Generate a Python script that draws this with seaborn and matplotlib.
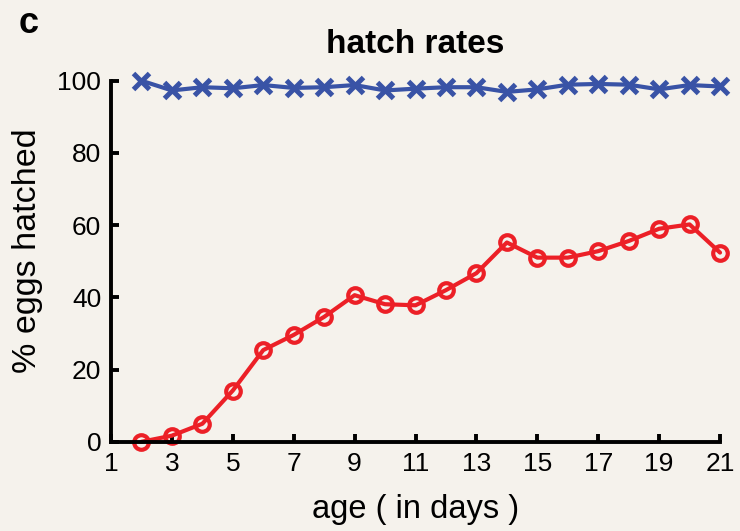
import matplotlib
matplotlib.use("Agg")
import matplotlib.pyplot as plt
import seaborn as sns
import pandas as pd

days = list(range(2, 22))
hatch_control = [100, 97.3, 98.2, 97.9, 98.8, 98.0, 98.2, 98.8, 97.3, 97.8,
                 98.2, 98.2, 96.9, 97.6, 98.9, 99.1, 98.9, 97.6, 98.8, 98.4]
hatch_treated = [0, 1.7, 5.0, 14.2, 25.4, 29.6, 34.6, 40.6, 38.1, 37.8,
                 42.0, 46.7, 55.2, 51.0, 51.0, 52.8, 55.6, 59.0, 60.2, 52.4]
xticks = list(range(1, 22, 2))
yticks = list(range(0, 101, 20))

sns.set_style("ticks")
plt.rcParams['font.family'] = ['Liberation Sans', 'DejaVu Sans']
plt.rcParams['text.color'] = 'black'
plt.rcParams['axes.labelcolor'] = 'black'

bg = "#f5f2ec"
fig = plt.figure(figsize=(7.4, 5.31), dpi=100, facecolor=bg)
ax = fig.add_axes([0.150, 0.168, 0.823, 0.680])
ax.set_facecolor(bg)

df = pd.DataFrame({"day": days, "control": hatch_control, "treated": hatch_treated})

blue = "#3953a6"
red = "#ec2027"
sns.lineplot(data=df, x="day", y="control", ax=ax, color=blue, lw=3,
             marker="x", markersize=11, markeredgewidth=3.6,
             markeredgecolor=blue, clip_on=False)
sns.lineplot(data=df, x="day", y="treated", ax=ax, color=red, lw=3,
             marker="o", markersize=10.5, markeredgewidth=3,
             markeredgecolor=red, markerfacecolor="none", clip_on=False)

ax.set_xlim(1, 21)
ax.set_ylim(0, 100)
ax.set_xticks(xticks)
ax.set_yticks(yticks)
ax.tick_params(direction="in", length=6, width=2.8, labelsize=19, colors="black", pad=7)
for s in ["top", "right"]:
    ax.spines[s].set_visible(False)
for s in ["left", "bottom"]:
    ax.spines[s].set_linewidth(2.8)
    ax.spines[s].set_color("black")

ax.set_xlabel("age ( in days )", fontsize=23.5, labelpad=13)
ax.set_ylabel("% eggs hatched", fontsize=24.5)
ax.yaxis.set_label_coords(-0.112, 0.53)
ax.set_title("hatch rates", fontsize=24, fontweight="bold", pad=20)
fig.text(0.025, 0.955, "c", fontsize=26, fontweight="bold", va="center", ha="left")

fig.savefig("out.png", dpi=100, facecolor=bg)
